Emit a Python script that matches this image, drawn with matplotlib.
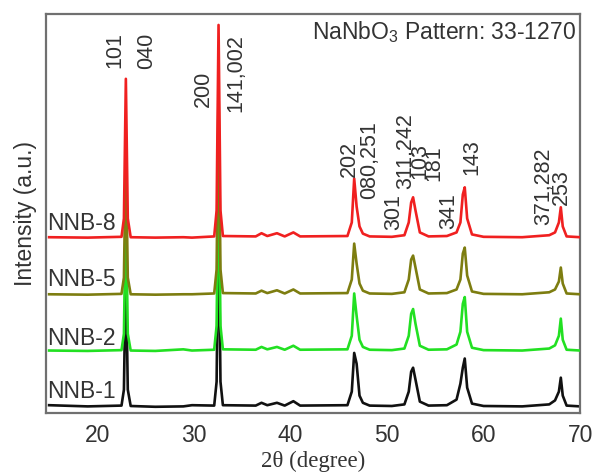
import matplotlib
matplotlib.use("Agg")
import matplotlib.pyplot as plt

plt.rcParams["font.family"] = ["Liberation Sans", "DejaVu Sans"]
plt.rcParams["mathtext.default"] = "regular"

# ── Data ──────────────────────────────────────────────────────────────────────

TWO_THETA = [15.0, 19.0, 22.5, 22.75, 22.95, 23.15, 23.45,
             26.0, 28.9, 29.8, 32.1, 32.35, 32.55, 32.75, 33.0,
             36.4, 37.0, 37.6, 38.6, 39.4, 40.3, 41.0,
             45.9, 46.35, 46.6, 46.85, 47.15, 47.5, 48.2,
             50.5, 51.8, 52.25, 52.5, 52.7, 52.95, 53.4, 54.3,
             56.2, 57.2, 57.6, 57.85, 58.05, 58.3, 58.8, 60.0,
             64.0, 66.8, 67.4, 67.8, 68.0, 68.2, 68.6, 70.0]

NNB1 = [0.6, 0.3, 0.5, 4.5, 36.0, 4.5, 0.4,
        0.2, 0.3, 0.6, 0.5, 6.5, 50.0, 6.5, 0.6,
        0.5, 1.2, 0.6, 1.2, 0.5, 1.6, 0.5,
        0.6, 4.0, 13.7, 11.0, 3.0, 1.2, 0.5,
        0.4, 0.8, 4.0, 9.0, 10.0, 7.0, 1.5, 0.5,
        0.6, 2.0, 6.0, 10.0, 12.3, 5.0, 1.0, 0.4,
        0.3, 0.8, 1.8, 4.0, 7.5, 3.0, 0.5, 0.3]

NNB2 = [0.3, 0.2, 0.4, 4.5, 37.0, 4.5, 0.3,
        0.2, 0.6, 0.3, 0.5, 6.5, 50.0, 6.5, 0.6,
        0.5, 1.2, 0.6, 1.2, 0.5, 1.5, 0.5,
        0.6, 4.0, 14.6, 9.0, 3.0, 1.2, 0.5,
        0.4, 0.8, 4.0, 9.5, 10.7, 7.0, 1.5, 0.5,
        0.6, 1.8, 5.0, 12.0, 13.7, 5.0, 1.0, 0.4,
        0.3, 0.8, 1.6, 4.0, 8.3, 3.0, 0.5, 0.3]

NNB5 = [0.3, 0.2, 0.4, 4.5, 36.5, 4.5, 0.3,
        0.2, 0.3, 0.3, 0.5, 6.5, 52.0, 6.5, 0.6,
        0.5, 1.2, 0.6, 1.3, 0.5, 1.5, 0.5,
        0.6, 4.0, 13.0, 8.0, 3.0, 1.2, 0.5,
        0.4, 0.8, 4.0, 9.0, 10.0, 7.0, 1.5, 0.5,
        0.6, 1.5, 4.0, 10.5, 12.0, 5.0, 1.0, 0.4,
        0.3, 0.8, 1.5, 3.5, 7.0, 3.0, 0.5, 0.3]

NNB8 = [0.3, 0.2, 0.4, 5.0, 40.0, 5.0, 0.3,
        0.2, 0.3, 0.2, 0.5, 7.0, 53.5, 7.0, 0.6,
        0.5, 1.3, 0.6, 1.3, 0.5, 1.5, 0.5,
        0.6, 4.0, 15.0, 8.0, 3.0, 1.2, 0.5,
        0.4, 0.8, 4.0, 9.0, 10.3, 7.0, 1.5, 0.5,
        0.6, 1.5, 4.0, 11.0, 12.8, 5.0, 1.0, 0.4,
        0.3, 0.8, 1.5, 4.0, 7.8, 3.0, 0.5, 0.3]

SAMPLES = ["NNB-1", "NNB-2", "NNB-5", "NNB-8"]
PATTERNS = [NNB1, NNB2, NNB5, NNB8]

# hkl labels of the NaNbO3 reference pattern
HKL_LABELS = ["101", "040", "200", "141,002", "202", "080,251", "301",
              "311,242", "103", "181", "341", "143", "371,282", "253"]
HKL_X = [21.85, 25.15, 31.0, 34.35, 46.15, 48.2, 50.7,
         51.9, 53.45, 54.85, 56.35, 58.75, 66.2, 68.05]
HKL_Y = [86.4, 86.2, 76.6, 75.4, 59.0, 53.5, 45.7,
         56.0, 58.5, 58.0, 46.0, 59.6, 47.0, 52.0]

# ── Styles ────────────────────────────────────────────────────────────────────

OFFSETS = [1.3, 15.3, 29.4, 43.7]
LABEL_Y = [5.3, 18.6, 33.4, 47.5]
COLORS = ["#111111", "#22e022", "#7d7d10", "#f02020"]
TEXT_COLOR = "#333333"
SPINE_COLOR = "#707070"

fig = plt.figure(figsize=(5.95, 4.75), dpi=100)
ax = fig.add_axes([0.077, 0.131, 0.898, 0.840])

for i, (name, ys) in enumerate(zip(SAMPLES, PATTERNS)):
    ax.plot(TWO_THETA, [v + OFFSETS[i] for v in ys], color=COLORS[i],
            linewidth=1.9, zorder=2 + i, solid_joinstyle="round")
    ax.text(14.8, LABEL_Y[i], name, fontsize=16.5, color=TEXT_COLOR,
            ha="left", va="center", zorder=10)

for lab, x, y in zip(HKL_LABELS, HKL_X, HKL_Y):
    ax.text(x, y, lab, rotation=90, fontsize=15.5, color=TEXT_COLOR,
            ha="center", va="bottom", zorder=10)

ax.text(69.6, 98.6, r"NaNbO$_3$ Pattern: 33-1270", fontsize=16.5,
        color=TEXT_COLOR, ha="right", va="top")

ax.set_xlim(14.66, 70)
ax.set_ylim(0, 100)
ax.set_xticks([20, 30, 40, 50, 60, 70])
ax.set_yticks([])
ax.tick_params(axis="x", length=0, labelsize=16.5, labelcolor=TEXT_COLOR, pad=8)

for sp in ax.spines.values():
    sp.set_color(SPINE_COLOR)
    sp.set_linewidth(1.6)

ax.set_ylabel("Intensity (a.u.)", fontsize=16.5, color=TEXT_COLOR, labelpad=6)
ax.set_xlabel("2\u03b8 (degree)", fontsize=16.5, color=TEXT_COLOR,
              family=["Liberation Serif", "DejaVu Serif"], labelpad=3)

fig.savefig("out.png", dpi=100, facecolor="white")
